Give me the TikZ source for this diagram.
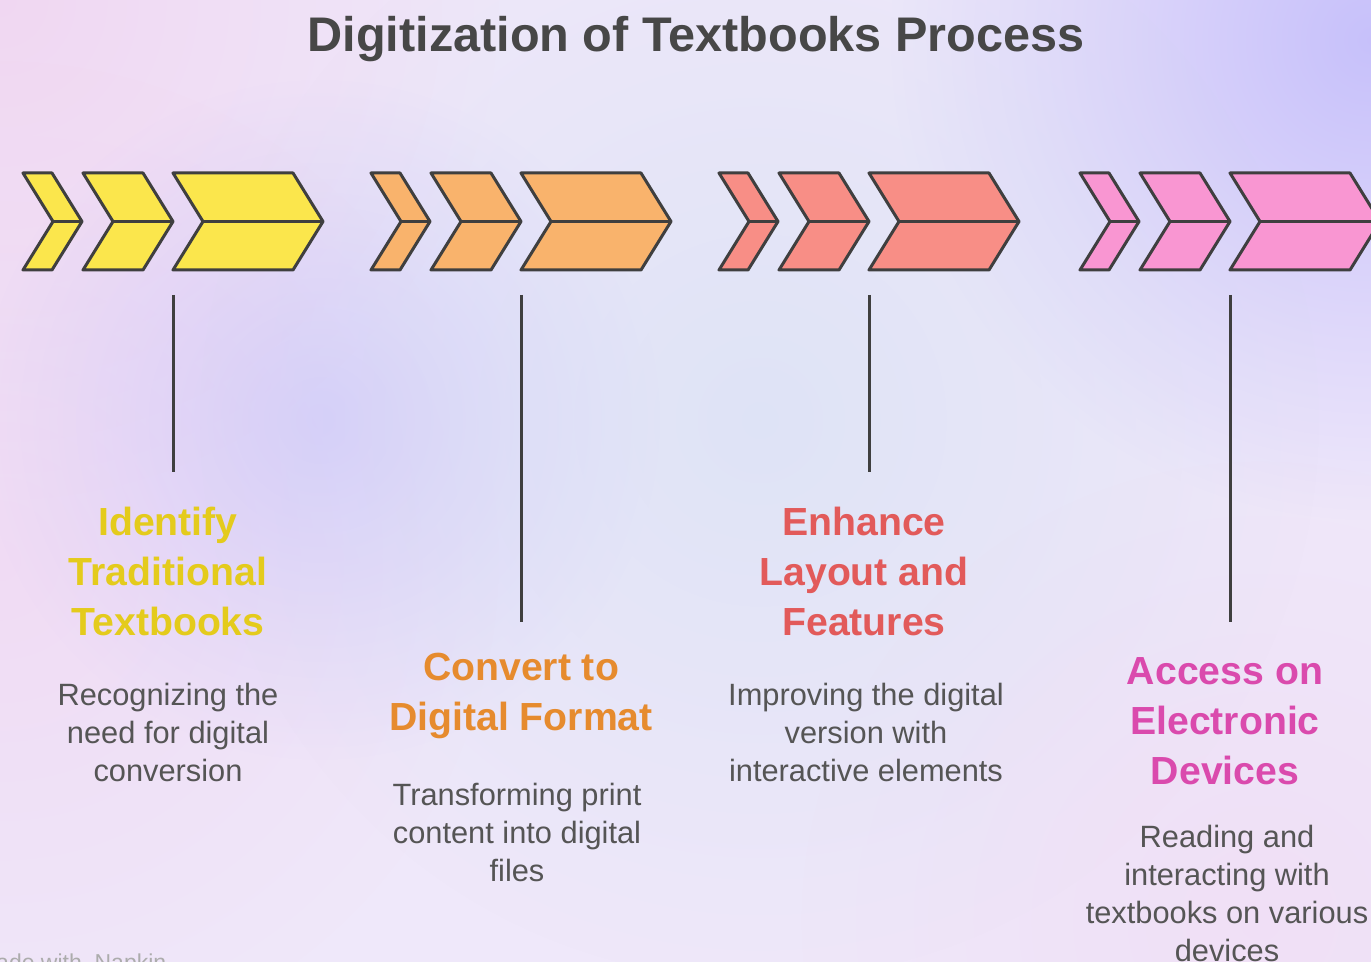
\documentclass[tikz,border=0pt]{standalone}
\usepackage{fontspec}
\setmainfont{Liberation Sans}
\usetikzlibrary{fadings}
\definecolor{bgbase}{HTML}{EFE8FA}
\definecolor{edge}{HTML}{3F3F3F}
\definecolor{headtext}{HTML}{474747}
\definecolor{desctext}{HTML}{555555}
\definecolor{fillA}{HTML}{FBE64C}\definecolor{textA}{HTML}{E4CB1C}
\definecolor{fillB}{HTML}{F9B36C}\definecolor{textB}{HTML}{E68B2E}
\definecolor{fillC}{HTML}{F88E86}\definecolor{textC}{HTML}{E25A5A}
\definecolor{fillD}{HTML}{F996D2}\definecolor{textD}{HTML}{DA4AAD}
\tikzfading[name=blob,inner color=transparent!0,outer color=transparent!100]
\tikzset{
  steptitle/.style={font=\bfseries\fontsize{19.6}{25}\selectfont,align=center,inner sep=0pt},
  stepdesc/.style={font=\fontsize{15.4}{19}\selectfont,text=desctext,align=center,inner sep=0pt},
  chevron/.style={draw=edge,line width=1.5pt,line join=round},
  stem/.style={draw=edge,line width=1.5pt},
  glow/.style={path fading=blob,fill opacity=#1},
  glow/.default=1
}
\begin{document}
\begin{tikzpicture}[x=0.5pt,y=-0.5pt]
\useasboundingbox (0,0) rectangle (1371,962);
\fill[bgbase] (0,0) rectangle (1371,962);
\begin{scope}
\clip (0,0) rectangle (1371,962);
\fill[glow=0.5,color=fillD!40!bgbase] (0,0) circle (500);
\fill[glow=0.5,color=fillD!30!bgbase] (0,560) circle (500);
\fill[glow=0.7,color=blue!24!bgbase] (1371,40) circle (480);
\fill[glow=0.5,color=blue!20!bgbase] (320,420) circle (340);
\fill[glow=0.5,color=cyan!14!bgbase] (760,420) circle (560);
\fill[glow=0.4,color=fillD!25!bgbase] (1260,920) circle (460);
\end{scope}
\node[font=\bfseries\fontsize{24.3}{28}\selectfont,text=headtext] (head) at (696,39) {Digitization of Textbooks Process};
% chevrons
\foreach \g/\c in {23/fillA,371/fillB,719/fillC,1080/fillD}{
  \foreach \a/\w in {0/29,60/60,150/120}{
    \draw[chevron,fill=\c] ({\g+\a},173)--({\g+\a+\w},173)--({\g+\a+\w+30},221.5)
      --({\g+\a+\w},270)--({\g+\a},270)--({\g+\a+30},221.5)--cycle;
    \draw[chevron] ({\g+\a+30},221.5)--({\g+\a+\w+30},221.5);
  }
}
% steps
\node[steptitle,text=textA] (ident) at (168,571) {Identify\\Traditional\\Textbooks};
\node[stepdesc] (identtxt) at (168,732) {Recognizing the\\need for digital\\conversion};
\node[steptitle,text=textB] (convert) at (521,696) {Convert to\\Digital Format};
\node[stepdesc] (converttxt) at (517,832) {Transforming print\\content into digital\\files};
\node[steptitle,text=textC] (enhance) at (864,571) {Enhance\\Layout and\\Features};
\node[stepdesc] (enhancetxt) at (866,732) {Improving the digital\\version with\\interactive elements};
\node[steptitle,text=textD] (access) at (1225,721) {Access on\\Electronic\\Devices};
\node[stepdesc] (accesstxt) at (1227,893.5) {Reading and\\interacting with\\textbooks on various\\devices};
% stems
\coordinate (identtop) at (173,295); \coordinate (identend) at (173,472);
\coordinate (converttop) at (521,295); \coordinate (convertend) at (521,622);
\coordinate (enhancetop) at (869,295); \coordinate (enhanceend) at (869,472);
\coordinate (accesstop) at (1230,295); \coordinate (accessend) at (1230,622);
\draw[stem] (identtop)--(identend) (converttop)--(convertend)
  (enhancetop)--(enhanceend) (accesstop)--(accessend);
\node[anchor=base west,font=\fontsize{11.5}{13}\selectfont,text=gray!65] (mark) at (-30,970) {Made with \ Napkin};
\end{tikzpicture}
\end{document}
